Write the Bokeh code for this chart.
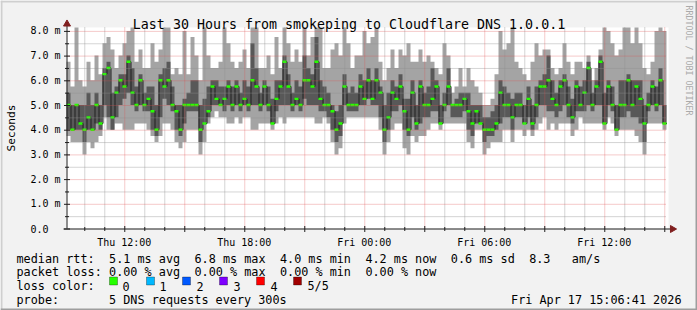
import math
import numpy as np
import pandas as pd
from bokeh.plotting import figure
from bokeh.models import Range1d, Label, BoxAnnotation
from bokeh.embed import file_html
from bokeh.resources import INLINE

# ---------------- data ----------------
TITLE = "Last 30 Hours from smokeping to Cloudflare DNS 1.0.0.1"
START = "2026-04-16 09:06:41"
END = "2026-04-17 15:06:41"
STEP_SECONDS = 720

# sorted ping values per step (ms): min, 2nd, median, 4th, max
ping_min = [
    3.75, 3.5, 3.5, 3.5, 3.0, 3.5, 3.25, 3.5, 3.75, 4.5, 4.0, 4.0, 4.25, 4.25, 4.0,
    4.0, 4.0, 4.25, 4.25, 4.25, 4.0, 3.75, 3.5, 3.75, 4.25, 4.25, 4.0, 3.5, 3.25, 3.5,
    4.0, 4.0, 4.0, 3.0, 3.5, 4.25, 4.5, 4.75, 4.5, 4.5, 4.25, 4.25, 4.5, 4.25, 4.5,
    4.5, 4.0, 4.0, 4.25, 4.25, 4.25, 4.0, 4.25, 4.5, 4.25, 4.5, 4.5, 4.5, 4.5, 4.5,
    4.5, 4.5, 4.25, 4.25, 4.5, 4.25, 3.5, 3.0, 3.25, 4.25, 4.5, 4.5, 4.5, 4.5, 4.5,
    4.5, 4.5, 4.5, 4.0, 3.0, 3.5, 4.0, 4.25, 4.25, 3.25, 3.0, 3.75, 3.5, 3.75, 3.75,
    4.0, 4.25, 4.25, 4.0, 4.25, 4.25, 4.25, 4.25, 4.25, 4.25, 3.5, 3.25, 4.0, 4.0, 3.0,
    3.25, 3.5, 3.5, 3.5, 4.0, 4.0, 3.5, 4.0, 4.0, 3.75, 4.0, 3.75, 4.0, 4.25, 4.5,
    4.0, 4.25, 4.0, 4.25, 4.25, 4.25, 3.75, 4.0, 4.5, 4.25, 4.25, 4.25, 4.25, 4.25, 4.0,
    4.5, 4.25, 3.75, 4.0, 4.0, 4.0, 4.0, 3.75, 3.5, 3.0, 4.25, 4.25, 4.25, 4.25, 4.0,
]
ping_2 = [
    4.0, 4.0, 4.0, 4.0, 3.5, 4.0, 4.0, 4.25, 4.0, 5.0, 4.5, 4.0, 4.5, 5.0, 5.25,
    5.5, 5.0, 4.75, 5.0, 4.75, 4.75, 4.0, 3.75, 4.5, 5.25, 5.0, 4.75, 4.0, 3.75, 4.25,
    4.75, 4.75, 4.75, 3.5, 4.25, 4.5, 5.0, 5.0, 5.0, 4.75, 5.0, 4.75, 5.0, 4.75, 5.0,
    4.75, 5.0, 5.0, 4.75, 5.0, 4.75, 4.25, 4.75, 5.0, 5.0, 5.0, 4.75, 5.0, 4.75, 5.25,
    5.0, 5.0, 5.0, 4.75, 4.75, 4.5, 4.0, 3.5, 3.75, 5.0, 4.75, 4.75, 4.75, 5.0, 5.0,
    5.25, 5.0, 5.0, 4.5, 3.5, 4.0, 4.75, 4.75, 5.0, 4.0, 3.75, 4.5, 4.0, 4.25, 4.5,
    4.5, 4.75, 4.75, 4.25, 4.75, 5.0, 4.5, 4.5, 4.5, 4.75, 4.0, 3.75, 4.25, 4.25, 3.5,
    3.75, 3.75, 4.0, 4.25, 4.5, 4.5, 4.0, 4.5, 4.5, 4.25, 4.5, 4.0, 4.5, 5.0, 5.0,
    4.75, 4.75, 4.5, 4.75, 5.0, 4.5, 4.25, 4.75, 4.75, 4.75, 5.0, 4.75, 5.0, 5.0, 4.25,
    5.0, 4.75, 4.0, 4.5, 4.5, 4.75, 4.5, 4.5, 4.25, 3.5, 4.75, 5.0, 4.75, 5.0, 4.25,
]
ping_med = [
    5.0, 4.0, 5.0, 4.25, 4.0, 4.5, 4.0, 5.0, 4.25, 6.25, 6.5, 4.5, 5.5, 6.0, 5.75,
    6.75, 5.5, 5.0, 6.0, 5.0, 5.25, 4.75, 4.0, 6.0, 5.75, 6.0, 5.0, 4.75, 4.0, 5.0,
    5.0, 5.0, 5.0, 4.0, 4.25, 4.75, 5.75, 5.25, 5.0, 5.25, 5.75, 5.0, 5.75, 5.0, 5.25,
    5.0, 6.0, 5.75, 5.0, 5.75, 5.0, 4.25, 5.25, 5.75, 6.75, 5.75, 5.0, 5.25, 5.0, 6.0,
    6.0, 5.75, 6.75, 5.25, 5.0, 5.0, 4.75, 4.0, 4.25, 5.75, 5.0, 5.0, 5.0, 5.75, 5.25,
    6.0, 5.25, 6.0, 5.5, 4.0, 4.5, 5.5, 5.25, 5.75, 4.75, 4.0, 5.5, 4.25, 5.75, 5.0,
    5.0, 5.25, 5.75, 4.25, 5.0, 5.75, 5.0, 5.0, 5.0, 5.25, 4.75, 4.25, 4.75, 4.25, 4.0,
    4.0, 4.0, 4.25, 5.5, 5.0, 5.0, 4.5, 5.0, 5.0, 4.25, 5.25, 4.25, 5.0, 5.75, 5.75,
    6.0, 5.25, 5.0, 5.75, 6.0, 5.0, 4.5, 5.75, 5.0, 5.5, 6.5, 5.0, 5.75, 6.75, 4.25,
    5.75, 5.0, 4.0, 5.0, 5.0, 6.0, 5.0, 5.75, 5.25, 4.25, 5.0, 5.75, 5.0, 6.0, 4.25,
]
ping_4 = [
    5.5, 5.0, 5.0, 5.0, 5.0, 5.5, 5.0, 5.5, 5.0, 6.5, 6.75, 5.5, 5.75, 6.25, 6.25,
    7.0, 6.5, 5.75, 6.25, 5.5, 5.75, 5.75, 5.0, 6.25, 6.5, 6.75, 5.75, 5.0, 5.0, 5.25,
    5.5, 6.0, 6.0, 5.0, 5.25, 5.75, 6.0, 6.0, 5.75, 5.75, 6.0, 5.75, 6.0, 5.5, 6.0,
    5.75, 7.5, 6.5, 5.5, 6.0, 5.75, 5.25, 6.0, 6.0, 7.0, 6.25, 5.5, 6.0, 5.75, 7.0,
    6.5, 6.25, 7.75, 6.0, 5.75, 5.5, 5.0, 4.75, 5.0, 6.25, 5.5, 5.75, 5.5, 6.25, 6.0,
    6.5, 6.0, 6.5, 5.75, 5.0, 5.5, 6.0, 5.75, 6.25, 5.25, 5.25, 6.0, 5.0, 6.0, 5.5,
    5.75, 6.5, 6.0, 5.0, 5.5, 6.5, 5.0, 5.25, 5.5, 5.5, 5.5, 5.0, 5.0, 5.0, 4.5,
    4.5, 4.75, 5.0, 6.0, 5.75, 5.5, 5.25, 5.5, 5.5, 5.0, 5.75, 5.0, 5.75, 6.0, 6.25,
    7.0, 6.0, 5.5, 6.0, 6.25, 5.75, 5.25, 6.0, 5.75, 6.0, 6.75, 5.5, 6.0, 7.0, 5.5,
    6.0, 5.75, 5.0, 6.0, 6.0, 6.25, 6.0, 6.0, 6.0, 5.0, 5.5, 6.0, 5.75, 6.5, 5.0,
]
ping_max = [
    6.75, 5.75, 8.2, 6.0, 5.75, 6.75, 6.0, 7.0, 6.25, 7.5, 7.75, 7.25, 6.5, 7.0, 7.5,
    8.0, 8.2, 6.75, 7.25, 6.5, 6.5, 7.5, 6.75, 7.25, 8.2, 8.2, 6.25, 6.5, 6.25, 8.0,
    6.25, 7.75, 7.0, 6.0, 8.2, 7.0, 6.5, 6.5, 6.75, 8.2, 7.5, 6.75, 6.5, 6.75, 7.25,
    6.5, 8.2, 8.2, 6.5, 6.5, 7.0, 6.25, 7.75, 6.5, 8.2, 7.5, 6.75, 7.25, 6.75, 8.2,
    7.0, 7.75, 8.2, 8.2, 6.5, 6.5, 7.25, 7.5, 7.0, 8.2, 7.5, 6.5, 7.0, 7.0, 8.0,
    7.5, 7.75, 8.2, 6.75, 6.0, 6.5, 7.25, 6.5, 7.25, 7.0, 7.5, 6.75, 6.75, 7.25, 6.75,
    7.0, 6.75, 6.5, 6.25, 7.5, 7.0, 5.5, 5.75, 6.5, 5.75, 6.5, 6.0, 5.75, 5.5, 5.0,
    5.0, 5.25, 6.25, 8.0, 7.25, 7.5, 8.2, 6.75, 6.5, 6.25, 6.0, 6.75, 7.5, 7.0, 7.25,
    7.25, 6.5, 6.25, 6.5, 7.5, 6.75, 6.25, 6.75, 6.75, 6.5, 7.0, 6.0, 6.5, 7.25, 8.2,
    8.0, 7.5, 7.0, 7.25, 8.2, 8.2, 7.5, 8.2, 7.5, 6.5, 6.25, 6.75, 8.0, 8.2, 8.0,
]

y_ticks = [0, 1, 2, 3, 4, 5, 6, 7, 8]
y_tick_labels = ["0.0", "1.0 m", "2.0 m", "3.0 m", "4.0 m",
                 "5.0 m", "6.0 m", "7.0 m", "8.0 m"]
y_minor = [0.5, 1.5, 2.5, 3.5, 4.5, 5.5, 6.5, 7.5]
x_label_times = ["2026-04-16 12:00", "2026-04-16 18:00", "2026-04-17 00:00",
                 "2026-04-17 06:00", "2026-04-17 12:00"]
x_tick_labels = ["Thu 12:00", "Thu 18:00", "Fri 00:00", "Fri 06:00", "Fri 12:00"]
x_major_grid_times = ["2026-04-16 12:00", "2026-04-16 15:00", "2026-04-16 18:00",
                      "2026-04-16 21:00", "2026-04-17 00:00", "2026-04-17 03:00",
                      "2026-04-17 06:00", "2026-04-17 09:00", "2026-04-17 12:00",
                      "2026-04-17 15:00"]
x_minor_grid_times = ["2026-04-16 10:00", "2026-04-16 11:00", "2026-04-16 13:00",
                      "2026-04-16 14:00", "2026-04-16 16:00", "2026-04-16 17:00",
                      "2026-04-16 19:00", "2026-04-16 20:00", "2026-04-16 22:00",
                      "2026-04-16 23:00", "2026-04-17 01:00", "2026-04-17 02:00",
                      "2026-04-17 04:00", "2026-04-17 05:00", "2026-04-17 07:00",
                      "2026-04-17 08:00", "2026-04-17 10:00", "2026-04-17 11:00",
                      "2026-04-17 13:00", "2026-04-17 14:00"]

legend_rows = [
    [(0, "median rtt:"), (13, "5.1 ms avg"), (25, "6.8 ms max"), (37, "4.0 ms min"),
     (49, "4.2 ms now"), (61, "0.6 ms sd"), (72, "8.3"), (78, "am/s")],
    [(0, "packet loss:"), (13, "0.00 % avg"), (25, "0.00 % max"), (37, "0.00 % min"),
     (49, "0.00 % now")],
    [(0, "loss color:")],
    [(0, "probe:"), (13, "5 DNS requests every 300s")],
]
loss_labels = ["0", "1", "2", "3", "4", "5/5"]
loss_colors = ["#26ff00", "#00b8ff", "#0059ff", "#7e00ff", "#ff0000", "#a10000"]
DATE_TEXT = "Fri Apr 17 15:06:41 2026"
VERTICAL_CREDIT = "RRDTOOL / TOBI OETIKER"
Y_LABEL = "Seconds"

# ---------------- geometry & styling ----------------
W, H = 697, 310
PL, PR = 66, 666          # plot area left/right (canvas px)
PBOT, PTOP = 228, 27      # plot area bottom/top (canvas px)
PXU = 24.7                # px per ms on the y scale
MONO = "DejaVu Sans Mono"
BACK = "#f2f2f2"
SHADE_A = "#cfcfcf"
SHADE_B = "#9e9e9e"
ARROW = "#801f1f"
AXIS = "#1f1f1f"
MGRID = "#de4f4f"
GRID = "#8f8f8f"


def ms(s):
    return pd.Timestamp(s).value / 1e6


start_ms, end_ms = ms(START), ms(END)
MPP = (end_ms - start_ms) / (PR - PL)      # ms per pixel
HX, HY = 0.5 * MPP, 0.5 / PXU               # half-pixel nudges for crisp 1px lines
y_top = (PBOT - PTOP) / PXU

n = len(ping_med)
step_ms = STEP_SECONDS * 1000.0
edges = start_ms + np.arange(n + 1) * step_ms
mids = edges[:-1] + step_ms / 2


def stepped(a):
    return list(a) + [a[-1]]


p = figure(width=W, height=H,
           x_range=Range1d(start_ms - PL * MPP, start_ms + (W - PL) * MPP),
           y_range=Range1d(-(H - PBOT) / PXU, PBOT / PXU),
           output_backend="svg", toolbar_location=None,
           x_axis_location=None, y_axis_location=None, min_border=0)
p.background_fill_color = BACK
p.border_fill_color = BACK
p.outline_line_color = None
p.grid.visible = False

# white canvas of the graph
p.quad(left=[start_ms], right=[end_ms + 2 * MPP], bottom=[0], top=[y_top],
       fill_color="white", line_color=None)


def clip_top(a):
    return [min(v, y_top) for v in a]


# smoke
p.varea_step(x=edges, y1=stepped(ping_min), y2=stepped(clip_top(ping_max)),
             step_mode="after", fill_color="#a4a4a4")
p.varea_step(x=edges, y1=stepped(ping_2), y2=stepped(clip_top(ping_4)),
             step_mode="after", fill_color="#585858")
# median
p.step(x=edges + HX, y=stepped(ping_med), mode="after", line_color="#202020", line_width=1)
p.rect(x=mids, y=ping_med, width=step_ms, height=2.4, height_units="screen",
       fill_color=loss_colors[0], line_color=None)

# grid (on top, like rrdtool)
xmin_t = [ms(t) + HX for t in x_minor_grid_times]
xmaj_t = [ms(t) + HX for t in x_major_grid_times]
p.segment(x0=xmin_t, x1=xmin_t, y0=[0] * len(xmin_t), y1=[y_top] * len(xmin_t),
          line_color=GRID, line_alpha=0.75, line_dash="1 1", line_width=1)
p.segment(x0=[start_ms] * len(y_minor), x1=[end_ms] * len(y_minor),
          y0=[v - HY for v in y_minor], y1=[v - HY for v in y_minor],
          line_color=GRID, line_alpha=0.75, line_dash="1 1", line_width=1)
p.segment(x0=xmaj_t, x1=xmaj_t, y0=[0] * len(xmaj_t), y1=[y_top] * len(xmaj_t),
          line_color=MGRID, line_alpha=0.6, line_dash="1 1", line_width=1)
p.segment(x0=[start_ms] * 8, x1=[end_ms] * 8,
          y0=[v - HY for v in y_ticks[1:]], y1=[v - HY for v in y_ticks[1:]],
          line_color=MGRID, line_alpha=0.6, line_dash="1 1", line_width=1)

# axes
p.segment(x0=[start_ms + HX], x1=[start_ms + HX], y0=[0], y1=[(PBOT - 23) / PXU],
          line_color=AXIS, line_width=1)
p.segment(x0=[start_ms - 3 * MPP], x1=[end_ms + 5 * MPP], y0=[-HY], y1=[-HY],
          line_color=AXIS, line_width=1)
# tick marks
p.scatter(x=[start_ms + HX] * len(y_ticks), y=[v - HY for v in y_ticks], marker="dash",
          size=6, line_color=AXIS, line_width=1)
p.scatter(x=[start_ms + HX] * len(y_minor), y=[v - HY for v in y_minor], marker="dash",
          size=4, line_color=AXIS, line_width=1)
p.scatter(x=xmaj_t, y=[-HY] * len(xmaj_t), marker="dash", angle=math.pi / 2,
          size=6, line_color=AXIS, line_width=1)
p.scatter(x=xmin_t, y=[-HY] * len(xmin_t), marker="dash", angle=math.pi / 2,
          size=4, line_color=AXIS, line_width=1)
# arrows
p.scatter(x=[start_ms + HX], y=[(PBOT - 23.5) / PXU], marker="triangle", size=7,
          fill_color=ARROW, line_color=ARROW)
p.scatter(x=[end_ms + 6 * MPP], y=[-HY], marker="triangle", angle=-math.pi / 2, size=7,
          fill_color=ARROW, line_color=ARROW)

# tick labels
for v, lab in zip(y_ticks, y_tick_labels):
    p.add_layout(Label(x=30, y=v, x_units="screen", y_units="data", text=lab,
                       text_align="left", text_baseline="middle", text_font=MONO,
                       text_font_size="10px", text_color="black"))
for t, lab in zip(x_label_times, x_tick_labels):
    p.add_layout(Label(x=ms(t), y=H - 241.7, x_units="data", y_units="screen", text=lab,
                       text_align="center", text_baseline="alphabetic", text_font=MONO,
                       text_font_size="10px", text_color="black"))

# outer 3D frame
for (l, r, t, b, c) in [(0, W, 0, 2, SHADE_A), (0, 2, 0, H, SHADE_A),
                        (0, W, H - 2, H, SHADE_B), (W - 2, W, 0, H, SHADE_B)]:
    p.add_layout(BoxAnnotation(left=l, right=r, top=H - t, bottom=H - b,
                               left_units="screen", right_units="screen",
                               top_units="screen", bottom_units="screen",
                               fill_color=c, fill_alpha=1, line_color=None))

# texts
p.add_layout(Label(x=348.5, y=H - 24, x_units="screen", y_units="screen",
                   text=TITLE, text_align="center", text_baseline="alphabetic",
                   text_font=MONO, text_font_size="13.3px", text_color="black"))
p.add_layout(Label(x=11, y=H - 127.5, x_units="screen", y_units="screen",
                   text=Y_LABEL, angle=math.pi / 2, text_align="center",
                   text_baseline="middle", text_font=MONO, text_font_size="11.2px",
                   text_color="black"))
p.add_layout(Label(x=688, y=H - 5, x_units="screen", y_units="screen",
                   text=VERTICAL_CREDIT, angle=-math.pi / 2, text_align="left",
                   text_baseline="middle", text_font=MONO, text_font_size="8.3px",
                   text_color="#aaaaaa"))

CHAR_W = 7.12
baselines = [258, 271.7, 285.5, 299.2]
for row, base in zip(legend_rows, baselines):
    for col, txt in row:
        p.add_layout(Label(x=16 + col * CHAR_W, y=H - base, x_units="screen",
                           y_units="screen", text=txt, text_align="left",
                           text_baseline="alphabetic", text_font=MONO,
                           text_font_size="11.8px", text_color="black"))
p.add_layout(Label(x=681, y=H - baselines[3], x_units="screen", y_units="screen",
                   text=DATE_TEXT, text_align="right", text_baseline="alphabetic",
                   text_font=MONO, text_font_size="11.8px", text_color="black"))

square_x = [109, 146, 182, 219, 256, 293]
label_x = [122, 159, 196, 233, 270, 307]
for i, (lab, col) in enumerate(zip(loss_labels, loss_colors)):
    p.add_layout(BoxAnnotation(left=square_x[i], right=square_x[i] + 8,
                               top=H - 276.5, bottom=H - 284.5,
                               left_units="screen", right_units="screen",
                               top_units="screen", bottom_units="screen",
                               fill_color=col, fill_alpha=1, line_color="black",
                               line_width=1))
    p.add_layout(Label(x=label_x[i], y=H - baselines[2], x_units="screen",
                       y_units="screen", text=lab, text_align="left",
                       text_baseline="alphabetic", text_font=MONO,
                       text_font_size="11.8px", text_color="black"))

open("out.html", "w").write(file_html(p, INLINE))
